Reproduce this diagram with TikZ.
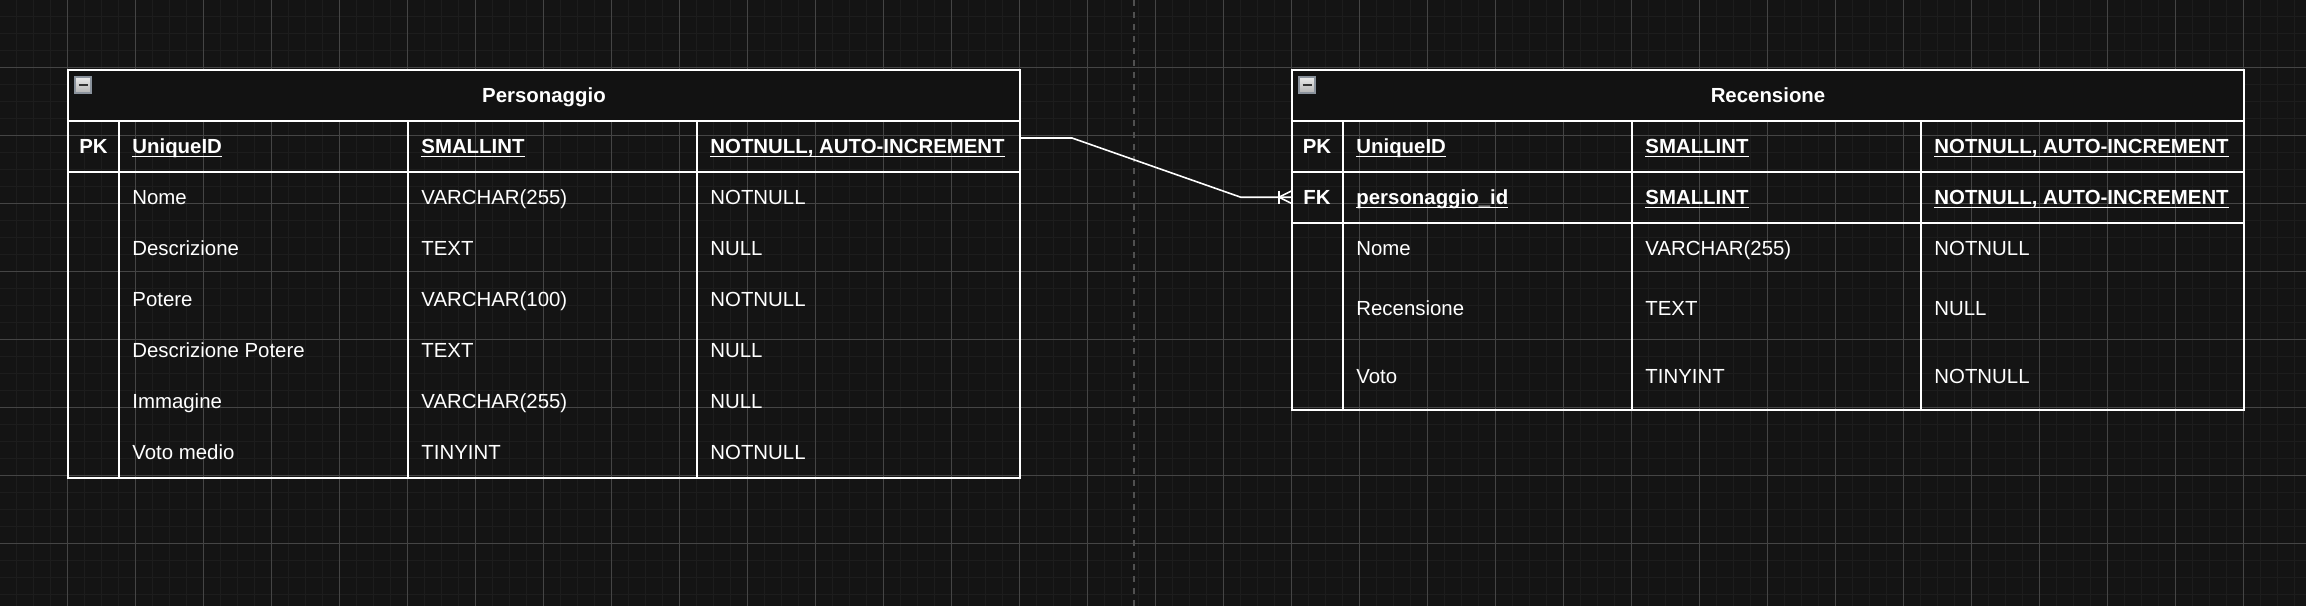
\documentclass[tikz,border=0pt]{standalone}
\usepackage{fontspec}
\setmainfont{Liberation Sans}
\usetikzlibrary{calc}
\definecolor{canvas}{HTML}{141414}
\definecolor{gridminor}{HTML}{1D1D1D}
\definecolor{gridmajor}{HTML}{454545}
\definecolor{headfill}{HTML}{121212}
\definecolor{guide}{HTML}{505050}
\definecolor{iconedge}{HTML}{8A929C}
\newcommand{\keyul}[1]{\underline{\smash{#1}}}

\begin{document}
\begin{tikzpicture}[
      x=0.5pt,y=-0.5pt,
      tablebox/.style={draw=white,line width=1pt,minimum width=476pt,anchor=north west,inner sep=0pt,outer sep=0pt},
      sepline/.style={white,line width=1pt},
      cell/.style={text=white,anchor=base west,inner sep=0pt,font=\fontsize{10.2}{12}\selectfont},
      keycell/.style={cell,font=\fontsize{10.2}{12}\selectfont\bfseries},
      tag/.style={keycell,anchor=base},
      icon/.style={draw=iconedge,line width=0.6pt,top color=white!92!black,bottom color=white!70!black},
      link/.style={white,line width=0.8pt}
    ]
    \useasboundingbox (0,0) rectangle (2306,606);
    \clip (0,0) rectangle (2306,606);
    \fill[canvas] (0,0) rectangle (2306,606);
    \foreach \i in {0,...,135}
      \draw[gridminor,line width=0.8pt] (16.3+17*\i,0) -- (16.3+17*\i,606);
    \foreach \i in {0,...,35}
      \draw[gridminor,line width=0.8pt] (0,16.3+17*\i) -- (2306,16.3+17*\i);
    \foreach \i in {0,...,32}
      \draw[gridmajor,line width=0.5pt] (67.3+68*\i,0) -- (67.3+68*\i,606);
    \foreach \i in {0,...,7}
      \draw[gridmajor,line width=0.5pt] (0,67.3+68*\i) -- (2306,67.3+68*\i);
    \draw[guide,line width=1pt,dash pattern=on 3pt off 3pt] (1134,0) -- (1134,606);

    \fill[headfill] (68,69.7) rectangle (1020,120.7);
    \fill[headfill] (1292,69.7) rectangle (2244,120.7);
    \node[tablebox,minimum height=204pt] (pers) at (68,69.7) {};
    \node[tablebox,minimum height=170pt] (rec) at (1292,69.7) {};

    \foreach \y in {120.7,171.7}
      \draw[sepline] (68,\y) -- (1020,\y);
    \foreach \x in {119,408,697}
      \draw[sepline] (\x,120.7) -- (\x,477.7);
    \foreach \y in {120.7,171.7,222.7}
      \draw[sepline] (1292,\y) -- (2244,\y);
    \foreach \x in {1342.5,1632,1921}
      \draw[sepline] (\x,120.7) -- (\x,409.7);

    \draw[icon] (75,77) rectangle (91,93);
    \draw[black!80,line width=1pt] (78.5,85) -- (87.5,85);
    \draw[icon] (1299,77) rectangle (1315,93);
    \draw[black!80,line width=1pt] (1302.5,85) -- (1311.5,85);

    \node[tag] (perstitle) at (544,102.3) {Personaggio};
    \node[tag] (perspk) at (93.5,153.5) {PK};
    \node[keycell] (persid) at (132,153.5) {\keyul{UniqueID}};
    \node[keycell] (persidtype) at (421,153.5) {\keyul{SMALLINT}};
    \node[keycell] (persidnull) at (710,153.5) {\keyul{NOTNULL, AUTO-INCREMENT}};
    \foreach \fld/\typ/\cns [count=\i from 0] in {Nome/VARCHAR(255)/NOTNULL,Descrizione/TEXT/NULL,Potere/VARCHAR(100)/NOTNULL,Descrizione Potere/TEXT/NULL,Immagine/VARCHAR(255)/NULL,Voto medio/TINYINT/NOTNULL}{
      \node[cell] (persfld\i) at (132,204.5+51*\i) {\fld};
      \node[cell] (perstyp\i) at (421,204.5+51*\i) {\typ};
      \node[cell] (perscns\i) at (710,204.5+51*\i) {\cns};
    }

    \node[tag] (rectitle) at (1768,102.3) {Recensione};
    \node[tag] (recpk) at (1317,153.5) {PK};
    \node[keycell] (recid) at (1356,153.5) {\keyul{UniqueID}};
    \node[keycell] (recidtype) at (1645,153.5) {\keyul{SMALLINT}};
    \node[keycell] (recidnull) at (1934,153.5) {\keyul{NOTNULL, AUTO-INCREMENT}};
    \node[tag] (recfk) at (1317,204.5) {FK};
    \node[keycell] (recfkid) at (1356,204.5) {\keyul{personaggio\_id}};
    \node[keycell] (recfktype) at (1645,204.5) {\keyul{SMALLINT}};
    \node[keycell] (recfknull) at (1934,204.5) {\keyul{NOTNULL, AUTO-INCREMENT}};
    \foreach \y/\fld/\typ/\cns [count=\i] in {255.5/Nome/VARCHAR(255)/NOTNULL,315/Recensione/TEXT/NULL,383/Voto/TINYINT/NOTNULL}{
      \node[cell] (recfld\i) at (1356,\y) {\fld};
      \node[cell] (rectyp\i) at (1645,\y) {\typ};
      \node[cell] (reccns\i) at (1934,\y) {\cns};
    }

    \coordinate (persout) at ($(pers.north east)+(0,68.3)$);
    \coordinate (recin) at ($(rec.north west)+(0,127.5)$);
    \draw[link] (persout) -- ++(52,0) -- ($(recin)+(-51.3,0)$) -- (recin);
    \draw[link] ($(recin)+(-13,-6.5)$) -- ($(recin)+(-13,6.5)$);
    \draw[link] ($(recin)+(0,-6.5)$) -- ($(recin)+(-13,0)$) -- ($(recin)+(0,6.5)$);
  \end{tikzpicture}
\end{document}
